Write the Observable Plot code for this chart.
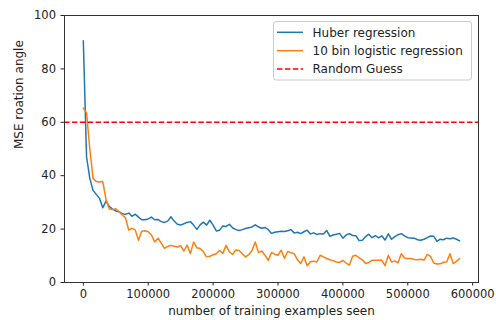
<!DOCTYPE html>
<html>
<head>
<meta charset="utf-8">
<script src="https://cdn.jsdelivr.net/npm/d3@7"></script>
<script src="https://cdn.jsdelivr.net/npm/@observablehq/plot@0.6"></script>
<style>
  html, body { margin: 0; padding: 0; background: white; }
</style>
</head>
<body>
<div id="chart"></div>
<script>
// training examples seen (sampled every 5000 examples, 0 .. 580000)
const examplesSeen = d3.range(0, 580001, 5000);

const huberMSE = [
  90.5, 47, 39, 34.5, 33, 31.5, 28, 30.5, 28.5, 27.5,
  26.8, 26.5, 25.8, 25.5, 26, 24.8, 25.6, 24.5, 23.5, 23.5,
  23.8, 24.5, 23.5, 23.6, 22.8, 22.5, 23, 24.6, 23, 21.8,
  21.5, 22, 22.5, 22.8, 21.5, 19.9, 21.6, 22.6, 21.5, 23.3,
  21.5, 19.3, 19.6, 21.2, 21, 21.8, 20.5, 19.8, 19.5, 19.8,
  20.2, 20.5, 20.8, 21.6, 20.8, 20.3, 20.6, 19.8, 18.4, 18.8,
  19, 19.2, 19.1, 19.4, 19.8, 18.5, 18.8, 18.3, 19, 19.6,
  18.2, 18.6, 18, 18.3, 18.2, 19.5, 17.3, 17.8, 18.1, 18.4,
  16.6, 17.8, 18.3, 17.6, 17.5, 15.7, 15.8, 17.2, 18.1, 16.8,
  17.6, 16.7, 17.5, 15.9, 18.2, 16.2, 17.2, 17.9, 18.3, 17.5,
  16.8, 16.7, 16.6, 16, 15.8, 16.2, 16.8, 17.4, 17.3, 15.4,
  16.2, 16, 16.6, 16.4, 16.7, 16.2, 15.6
];

const logisticMSE = [
  65.3, 63.5, 50, 39, 37.8, 37.6, 37.8, 31, 27.5, 27.3,
  27.6, 26.5, 25.3, 24.2, 19.6, 20.3, 19.7, 15.8, 19.2, 19.4,
  19, 17.8, 15.2, 16.6, 14.8, 12.8, 13.5, 13.9, 13.6, 13.3,
  13.8, 11.8, 14, 10.8, 15.2, 13, 12.7, 11.5, 9.6, 9.8,
  10.4, 10.8, 12, 10.9, 13.9, 11.5, 10.5, 12.2, 12, 10.8,
  9.6, 10.4, 12, 15.2, 11.2, 11.8, 10.2, 8.3, 11.2, 10.6,
  10.2, 12.1, 9.1, 11.6, 11.2, 10.8, 8.5, 7.1, 9.6, 6.3,
  7.8, 8, 7.7, 10.2, 9.6, 9, 8.5, 8.2, 7.7, 7.5,
  8.3, 7.3, 6.5, 9.8, 10.2, 9.2, 8.5, 7.1, 7.5, 8.3,
  8.3, 8.3, 8.3, 6.3, 10.2, 7.7, 8.1, 7.4, 10.8, 9.2,
  9, 9, 8.6, 8.5, 8.7, 8.4, 10.5, 9.8, 7.3, 6.9,
  7, 7.6, 7.7, 10.8, 7.1, 7.9, 9
];

const randomGuess = [60];

const xTicks = [0, 100000, 200000, 300000, 400000, 500000, 600000];
const yTicks = [0, 20, 40, 60, 80, 100];

const seriesNames = ["Huber regression", "10 bin logistic regression", "Random Guess"];
const xLabel = "number of training examples seen";
const yLabel = "MSE roation angle";

const huberData = examplesSeen.map((x, i) => ({x, y: huberMSE[i]}));
const logisticData = examplesSeen.map((x, i) => ({x, y: logisticMSE[i]}));

const colors = ["#1f77b4", "#ff7f0e", "#ff0000"];
const dash = "5.5,2.4";

const chart = Plot.plot({
  width: 496,
  height: 320,
  marginLeft: 64,
  marginRight: 18,
  marginTop: 15,
  marginBottom: 38,
  style: {fontFamily: "DejaVu Sans", fontSize: "11.5px", color: "#222", background: "white"},
  x: {domain: [-29000, 609000]},
  y: {domain: [0, 100]},
  marks: [
    Plot.axisX({ticks: xTicks, tickFormat: d => String(d), tickSize: 3.5, tickPadding: 4, label: null}),
    Plot.axisY({ticks: yTicks, tickSize: 3.5, tickPadding: 5, label: null}),
    Plot.lineY(huberData, {x: "x", y: "y", stroke: colors[0], strokeWidth: 1.5}),
    Plot.lineY(logisticData, {x: "x", y: "y", stroke: colors[1], strokeWidth: 1.5}),
    Plot.ruleY(randomGuess, {stroke: colors[2], strokeWidth: 1.5, strokeDasharray: dash}),
    Plot.frame({stroke: "#333", strokeWidth: 1}),
    Plot.text([xLabel], {frameAnchor: "bottom", dy: 32, fontSize: 12, fill: "#222"}),
    Plot.text([yLabel], {frameAnchor: "left", dx: -45, rotate: -90, fontSize: 12, fill: "#222"})
  ]
});

document.getElementById("chart").appendChild(chart);

// legend (upper right, matplotlib style)
const svg = d3.select(chart);
const lg = svg.append("g")
  .attr("font-family", "DejaVu Sans").attr("font-size", 12).attr("text-anchor", "start");
lg.append("rect")
  .attr("x", 273.5).attr("y", 21.5).attr("width", 198).attr("height", 58.5)
  .attr("rx", 2.5).attr("fill", "white").attr("fill-opacity", 0.8)
  .attr("stroke", "#ccc").attr("stroke-width", 1);
const rowsY = [32.3, 50.7, 69];
seriesNames.forEach((name, i) => {
  lg.append("line")
    .attr("x1", 277).attr("x2", 303).attr("y1", rowsY[i]).attr("y2", rowsY[i])
    .attr("stroke", colors[i]).attr("stroke-width", 1.5)
    .attr("stroke-dasharray", i === 2 ? dash : null);
  lg.append("text")
    .attr("x", 312.5).attr("y", rowsY[i]).attr("dy", "0.35em")
    .attr("text-anchor", "start")
    .attr("fill", "#222").text(name);
});
</script>
</body>
</html>
